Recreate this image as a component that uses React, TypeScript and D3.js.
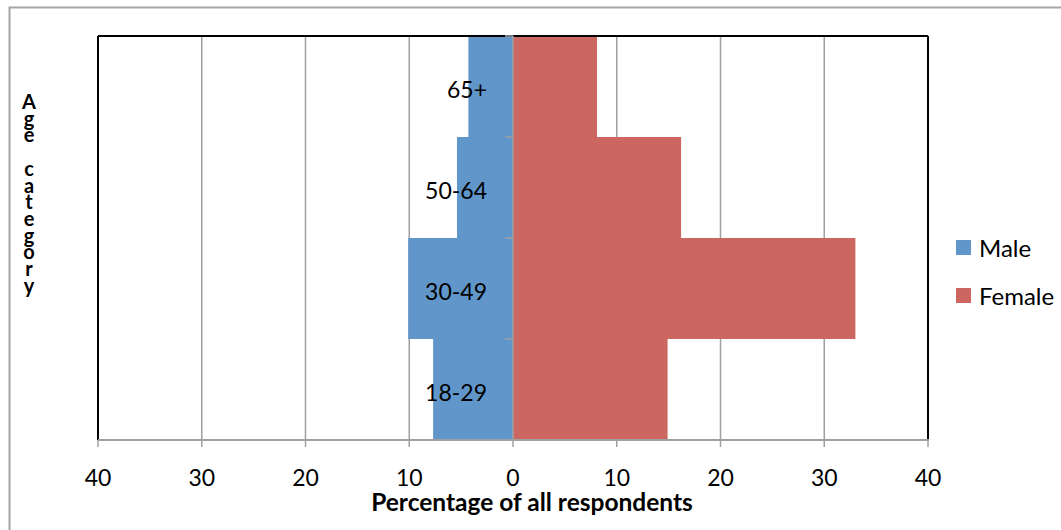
import React from 'react';
import * as d3 from 'd3';

// Age groups, top to bottom
const categories = ['65+', '50-64', '30-49', '18-29'];
// Percentages
const maleValues = [4.3, 5.4, 10.1, 7.7];
const femaleValues = [8.1, 16.2, 33.0, 14.9];
const xTicks = [-40, -30, -20, -10, 0, 10, 20, 30, 40];
const seriesNames = ['Male', 'Female'];

const COLORS = { Male: '#6096c9', Female: '#cc6660' };
const FONT = 'Lato, "Open Sans", sans-serif';

const App = () => {
  const width = 1061;
  const height = 530;
  const plot = { left: 98, right: 928, top: 36, bottom: 440 };

  const x = d3.scaleLinear().domain([-40, 40]).range([plot.left, plot.right]);
  const y = d3
    .scaleBand()
    .domain(categories)
    .range([plot.top, plot.bottom])
    .padding(0);

  const title = 'Age category'.split('');

  return (
    <svg
      width={width}
      height={height}
      style={{ position: 'absolute', left: 0, top: 0, background: '#fff' }}
      fontFamily={FONT}
    >
      {/* outer chart border */}
      <rect x={9.5} y={7.5} width={width} height={height} fill="none" stroke="#a6a6a6" strokeWidth={2} />

      {/* vertical gridlines */}
      {xTicks
        .filter((t) => t !== 0 && Math.abs(t) !== 40)
        .map((t) => (
          <line key={t} x1={x(t)} x2={x(t)} y1={plot.top} y2={plot.bottom} stroke="#a0a0a0" strokeWidth={1.5} />
        ))}

      {/* bars */}
      {categories.map((c, i) => (
        <g key={c}>
          <rect
            x={x(-maleValues[i])}
            y={y(c)}
            width={x(0) - x(-maleValues[i])}
            height={y.bandwidth()}
            fill={COLORS.Male}
          />
          <rect
            x={x(0)}
            y={y(c)}
            width={x(femaleValues[i]) - x(0)}
            height={y.bandwidth()}
            fill={COLORS.Female}
          />
        </g>
      ))}

      {/* plot frame */}
      <line x1={plot.left} x2={plot.right} y1={plot.top} y2={plot.top} stroke="#000" strokeWidth={2} />
      <line x1={plot.left} x2={plot.left} y1={plot.top} y2={plot.bottom} stroke="#000" strokeWidth={2} />
      <line x1={plot.right} x2={plot.right} y1={plot.top} y2={plot.bottom} stroke="#000" strokeWidth={2} />

      {/* category axis at zero */}
      <line x1={x(0)} x2={x(0)} y1={plot.top} y2={plot.bottom} stroke="#a0a0a0" strokeWidth={1.5} />
      {categories.map((c) => (
        <line key={'t' + c} x1={x(0) - 8} x2={x(0)} y1={y(c)} y2={y(c)} stroke="#a0a0a0" strokeWidth={1.5} />
      ))}
      {categories.map((c) => (
        <text
          key={'l' + c}
          x={x(0) - 26}
          y={(y(c) ?? 0) + y.bandwidth() / 2 + 3}
          dy="0.35em"
          textAnchor="end"
          fontSize={23}
          fill="#000"
        >
          {c}
        </text>
      ))}

      {/* value axis */}
      <line x1={plot.left} x2={plot.right + 1} y1={plot.bottom} y2={plot.bottom} stroke="#a0a0a0" strokeWidth={2} />
      {xTicks.map((t) => (
        <g key={'x' + t}>
          <line x1={x(t)} x2={x(t)} y1={plot.bottom} y2={plot.bottom + 7} stroke="#a0a0a0" strokeWidth={1.5} />
          <text x={x(t)} y={486} textAnchor="middle" fontSize={23} fill="#000">
            {Math.abs(t)}
          </text>
        </g>
      ))}
      <text x={x(0) + 19} y={511} textAnchor="middle" fontSize={24.5} fontWeight="bold" fill="#000">
        Percentage of all respondents
      </text>

      {/* stacked vertical axis title */}
      <text x={29} y={109} textAnchor="middle" fontSize={20} fontWeight="bold" fill="#000">
        {title.map((ch, i) => (
          <tspan key={i} x={29} y={109 + i * 16.7}>
            {ch === ' ' ? '\u00a0' : ch}
          </tspan>
        ))}
      </text>

      {/* legend */}
      {seriesNames.map((s, i) => (
        <g key={s} transform={`translate(956, ${240 + i * 48})`}>
          <rect width={15} height={15} fill={COLORS[s]} />
          <text x={23} y={16.5} fontSize={24} fill="#000">
            {s}
          </text>
        </g>
      ))}
    </svg>
  );
};

export default App;
